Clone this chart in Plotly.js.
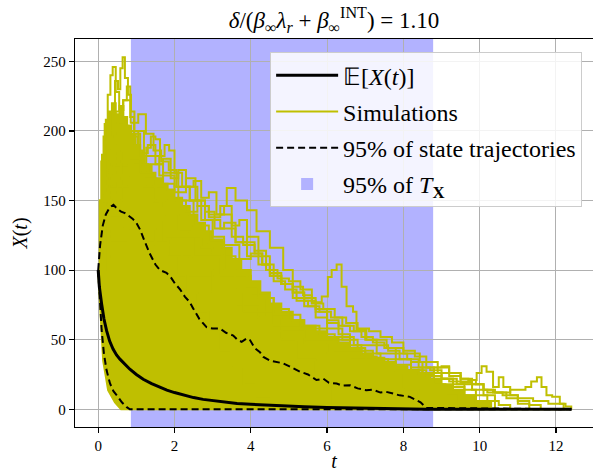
<!DOCTYPE html>
<html>
<head>
<meta charset="utf-8">
<script src="https://cdn.plot.ly/plotly-3.0.1.min.js"></script>
<style>
html,body{margin:0;padding:0;background:#fff;}
#chart{width:593px;height:472px;}
</style>
</head>
<body>
<div id="chart"></div>
<script>
// Expected value E[X(t)]
const meanT = [0,0.03,0.09,0.15,0.22,0.3,0.39,0.48,0.57,0.7,0.83,1.0,1.18,1.4,1.62,1.8,2.0,2.25,2.5,2.75,3.03,3.3,3.64,4.0,4.4,4.87,5.4,6.0,6.7,7.5,8.6,12.41];
const meanY = [100,88,75.7,65,56.5,49,43.3,39,36,32,28.8,25,21.6,18.5,15.6,13.7,12,10,8.4,7.1,6,5.1,4.1,3.6,3,2.4,1.8,1.3,0.9,0.5,0.1,0];

// 95% band of state trajectories (upper and lower bounds)
const bandUpT = [0,0.05,0.12,0.2,0.3,0.4,0.5,0.6,0.7,0.8,0.9,1.0,1.1,1.2,1.35,1.5,1.62,1.79,1.9,2.01,2.15,2.27,2.4,2.49,2.65,2.84,3.0,3.19,3.35,3.54,3.65,3.76,3.9,3.98,4.1,4.24,4.33,4.5,4.7,4.85,5.0,5.15,5.29,5.5,5.72,5.9,6.05,6.25,6.4,6.6,6.8,7.03,7.2,7.4,7.55,7.73,7.9,8.05,8.17,8.3,8.45,8.6,12.4];
const bandUpY = [100,118,132,140,145,147,144,142,141,139,137,134,129,122,112,104,100,98,95,90.5,86,81,77,72.5,65,59,58,58,55,53,50,48.5,51,49.7,44,41,37.6,35,34,33,31,29,27,25,21,22,19,18.5,17,17.3,15,13.7,14,12,12.5,11.3,10,9.5,8.9,7,5,1,0];
const bandLoT = [0,0.04,0.09,0.15,0.22,0.31,0.4,0.52,0.62,0.74,0.83,12.4];
const bandLoY = [100,80,57,40,28,18.5,13,8.9,5,1.7,0,0];

// 95% interval of the extinction time T_X
const txLow = 0.857;
const txHigh = 8.78;

// Bulk of the simulated paths: lower-left edge and upper edge of the dense region
const bulkLoT = [0,0.045,0.13,0.26,0.44,0.6,12.4];
const bulkLoY = [100,76,35,13.7,5,0,0];
const bulkUpT = [0,0.04,0.08,0.14,0.2,0.28,0.36,0.46,0.56,0.66,0.76,0.86,0.98,1.1,1.22,1.36,1.5,1.66,1.82,2.0,2.2,2.4,2.6,2.8,3.0,3.25,3.5,3.75,4.0,4.25,4.5,4.8,5.1,5.4,5.7,6.0,6.3,6.6,6.9,7.2,7.5,7.8,8.1,8.4,8.7,9.0,9.3,9.6,9.9,10.3];
const bulkUpY = [100,150,178,196,208,214,220,212,218,210,204,198,190,182,176,170,166,162,158,152,146,140,134,128,122,116,108,100,92,84,76,70,64,60,56,52,48,44,40,37,34,31,28,25,22,18,14,10,6,0];

// Individual simulated paths standing out of the bulk
const simAT = [0,0.06,0.14,0.22,0.3,0.37,0.44,0.52,0.58,0.64,0.7,0.78,0.86,0.95,1.05,1.15,1.25,1.4,1.55,1.7,1.9,2.1,2.3,2.6,2.9,3.2,3.5,3.8,4.1,4.5];
const simAY = [100,122,148,170,196,214,236,230,245,253,238,226,214,200,186,176,160,148,136,122,110,96,84,70,56,42,30,18,8,0];
const simBT = [0,0.05,0.1,0.17,0.25,0.32,0.38,0.46,0.55,0.66,0.75,0.84,0.94,1.04,1.14,1.26,1.38,1.5,1.62,1.74,1.86,2.0,2.2,2.4,2.7,3.0,3.3,3.6,4.0,4.4,4.8,5.2,5.7,6.1];
const simBY = [100,150,183,205,226,240,246,228,215,222,232,210,196,184,176,188,196,194,182,190,186,170,160,150,136,124,110,96,82,66,50,36,20,0];
const simCT = [0,0.1,0.2,0.3,0.45,0.6,0.8,1.0,1.2,1.4,1.7,2.0,2.3,2.6,2.9,3.2,3.37,3.6,3.9,4.15,4.5,4.85,5.1,5.37,5.6,5.86,6.02,6.12,6.25,6.38,6.51,6.68,6.77,7.03,7.38,7.56,7.82,8.0,8.26,8.43,8.6,8.8,9.0,9.3,9.6,9.9,10.2,10.5,10.8];
const simCY = [100,115,128,140,150,160,168,172,160,150,146,150,142,146,140,146,159,150,143,128,116,100,88,82,77,81,95,100,104,88,74,70,57,50,50,44,44,40,40,34,30,26,22,18,14,10,6,3,0];
const simDT = [0,0.3,0.7,1.2,1.8,2.4,3.0,3.6,4.2,4.8,5.4,6.0,6.6,7.2,7.8,8.4,8.8,9.0,9.2,9.5,9.7,9.9,10.1,10.35,10.6,10.8,11.0,11.2,11.35,11.5,11.62,11.75,11.9,12.1,12.25,12.4];
const simDY = [100,130,140,120,110,96,86,74,66,56,48,40,36,30,28,26,30,31,26,22,21,18,14,12,12,14,14,16,20,23,16,10,9,4,2,0];
const simET = [0,0.3,0.8,1.5,2.2,3.0,3.8,4.6,5.4,6.2,7.0,7.6,8.1,8.5,8.8,9.2,9.5,9.75,9.92,10.05,10.18,10.35,10.5,10.62,10.8,11.0,11.3,11.6];
const simEY = [100,120,130,118,100,84,70,60,50,42,36,30,28,25,22,20,19,21,26,31,27,16,23,16,10,6,3,0];
const simFT = [0,0.2,0.5,0.9,1.3,1.7,2.1,2.5,2.9,3.3,3.7,4.0,4.3,4.6,4.9,5.2,5.5,5.8,6.1,6.4,6.7,7.0,7.3,7.6,7.9,8.2,8.5,8.8,9.1,9.4];
const simFY = [100,150,190,176,160,170,150,132,120,118,108,112,104,92,86,78,74,70,66,60,56,50,46,42,36,30,24,18,10,0];
const simGT = [0,0.15,0.4,0.8,1.2,1.6,2.0,2.4,2.8,3.2,3.6,3.9,4.2,4.5,4.8,5.1,5.4,5.7,6.0,6.3,6.6,6.9,7.3,7.7];
const simGY = [100,140,175,200,182,168,160,150,136,130,120,124,110,96,90,84,80,72,62,54,46,38,24,0];
const simHT = [0,0.3,0.7,1.2,1.8,2.5,3.2,3.9,4.6,5.3,6.0,6.7,7.3,7.8,8.2,8.5,8.9,9.2,9.5,9.8,10.1,10.4,10.7,11.0,11.3];
const simHY = [100,138,150,140,124,110,96,80,68,58,52,46,40,36,34,30,26,24,20,18,14,12,8,4,0];
const simIT = [0,0.1,0.3,0.6,0.9,1.2,1.5,1.8,2.1,2.4,2.7,3.0,3.3,3.6,3.9,4.2,4.6,5.0,5.4,5.8,6.2,6.6,7.0,7.4,7.8,8.2,8.6,9.0,9.4,9.8,10.2,10.6,11.0,11.4,11.8,12.2];
const simIY = [100,126,160,186,178,166,150,140,128,124,116,112,100,94,88,80,72,64,60,54,50,44,40,36,32,28,24,22,18,14,12,10,8,6,4,0];
const simJT = [0,0.12,0.3,0.5,0.7,0.9,1.1,1.3,1.5,1.7,1.9,2.1,2.3,2.5,2.7,2.9,3.1,3.3,3.5,3.7,3.9,4.1,4.3,4.5,4.8,5.1,5.4,5.7,6.0,6.4,6.8,7.2,7.6,8.0,8.4];
const simJY = [100,145,178,206,190,198,184,190,176,180,166,172,160,164,152,156,140,146,132,136,120,112,104,98,90,80,74,66,58,50,42,34,26,14,0];
const simKT = [0,0.1,0.25,0.45,0.65,0.85,1.05,1.25,1.45,1.65,1.85,2.05,2.3,2.55,2.8,3.05,3.3,3.6,3.9,4.2,4.5,4.8,5.1,5.4,5.7,6.0,6.3,6.6,6.9,7.2,7.5,7.8,8.1,8.4,8.7,9.0,9.3,9.6,9.9];
const simKY = [100,155,190,214,222,206,212,198,186,178,172,160,166,150,142,130,134,120,110,104,96,90,84,78,70,64,60,56,52,48,44,40,36,30,28,22,16,10,0];
const simLT = [0,0.2,0.5,0.8,1.1,1.4,1.7,2.0,2.3,2.6,2.9,3.2,3.5,3.8,4.1,4.4,4.7,5.0,5.3,5.6,5.9,6.2,6.5,6.8,7.1,7.4,7.7,8.0,8.3,8.6,8.9,9.2,9.5,9.8,10.1,10.4];
const simLY = [100,140,168,180,170,176,162,156,160,146,138,140,124,118,114,100,94,92,86,76,72,66,62,58,56,52,48,42,38,34,30,26,22,18,10,0];

// Tick positions
const xTicks = [0,2,4,6,8,10,12];
const yTicks = [0,50,100,150,200,250];

const YEL = '#bfbf00';
const SERIF = 'Liberation Serif';

const sims = [[simAT,simAY],[simBT,simBY],[simCT,simCY],[simDT,simDY],[simET,simEY],[simFT,simFY],
  [simGT,simGY],[simHT,simHY],[simIT,simIY],[simJT,simJY],[simKT,simKY],[simLT,simLY]];

const traces = [];
// dense body of simulations
traces.push({x: bulkLoT, y: bulkLoY, type: 'scatter', mode: 'lines',
  line: {color: YEL, width: 2}, showlegend: false, hoverinfo: 'skip'});
traces.push({x: bulkUpT, y: bulkUpY, type: 'scatter', mode: 'lines',
  line: {color: YEL, width: 2, shape: 'hv'}, fill: 'tonexty', fillcolor: YEL,
  showlegend: false, hoverinfo: 'skip'});
sims.forEach(function (s, i) {
  traces.push({x: s[0], y: s[1], type: 'scatter', mode: 'lines',
    line: {color: YEL, width: 2, shape: 'hv'},
    name: 'Simulations', legendgroup: 'sim', showlegend: i === 0, legendrank: 2});
});
traces.push({x: bandUpT, y: bandUpY, type: 'scatter', mode: 'lines',
  line: {color: 'black', width: 2, dash: '7px,4px'},
  name: '95% of state trajectories', legendgroup: 'band', showlegend: true, legendrank: 3});
traces.push({x: bandLoT, y: bandLoY, type: 'scatter', mode: 'lines',
  line: {color: 'black', width: 2, dash: '7px,4px'},
  legendgroup: 'band', showlegend: false});
traces.push({x: meanT, y: meanY, type: 'scatter', mode: 'lines',
  line: {color: 'black', width: 3},
  name: '𝔼[<i>X</i>(<i>t</i>)]', legendgroup: 'mean', showlegend: true, legendrank: 1});

const axisCommon = {
  showgrid: true, gridcolor: '#b0b0b0', gridwidth: 1, zeroline: false,
  showline: true, linecolor: 'black', linewidth: 1.2,
  ticks: 'outside', ticklen: 5, tickwidth: 1.2, tickcolor: 'black',
  tickfont: {family: SERIF, size: 15, color: 'black'}
};

const layout = {
  width: 593, height: 472,
  margin: {l: 75, r: 0, t: 39, b: 45},
  paper_bgcolor: 'white', plot_bgcolor: 'white',
  font: {family: SERIF, color: 'black'},
  title: {text: '<i>δ</i>/(<i>β</i><sub>∞</sub><i>λ</i><sub><i>r</i></sub> + <i>β</i><sub>∞</sub><sup>INT</sup>) = 1.10',
    font: {family: SERIF, size: 23, color: 'black'}, x: 0.5, xref: 'paper', xanchor: 'center', y: 0.958, yanchor: 'middle'},
  xaxis: Object.assign({}, axisCommon, {
    range: [-0.608, 12.97], tickmode: 'array', tickvals: xTicks, ticktext: xTicks.map(String), mirror: true,
    title: {text: '<i>t</i>', font: {family: SERIF, size: 20, color: 'black'}, standoff: 2}
  }),
  yaxis: Object.assign({}, axisCommon, {
    range: [-12.74, 266.1], tickmode: 'array', tickvals: yTicks, ticktext: yTicks.map(String), mirror: false,
    title: {text: '<i>X</i>(<i>t</i>)', font: {family: SERIF, size: 20, color: 'black'}, standoff: 10}
  }),
  shapes: [{
    type: 'rect', xref: 'x', yref: 'paper', x0: txLow, x1: txHigh, y0: 0, y1: 1,
    fillcolor: 'rgb(178,178,255)', line: {width: 0}, layer: 'below',
    showlegend: true, legendgroup: 'tx', name: '95% of <i>T</i><sub><b>X</b></sub>', legendrank: 4
  }],
  legend: {
    x: 0.979, xanchor: 'right', y: 0.966, yanchor: 'top',
    bgcolor: 'rgba(255,255,255,0.85)', bordercolor: '#cccccc', borderwidth: 1,
    font: {family: SERIF, size: 24, color: 'black'}, traceorder: 'grouped', tracegroupgap: 2, itemwidth: 62
  },
  showlegend: true
};

Plotly.newPlot('chart', traces, layout, {displayModeBar: false, staticPlot: true});
</script>
</body>
</html>
